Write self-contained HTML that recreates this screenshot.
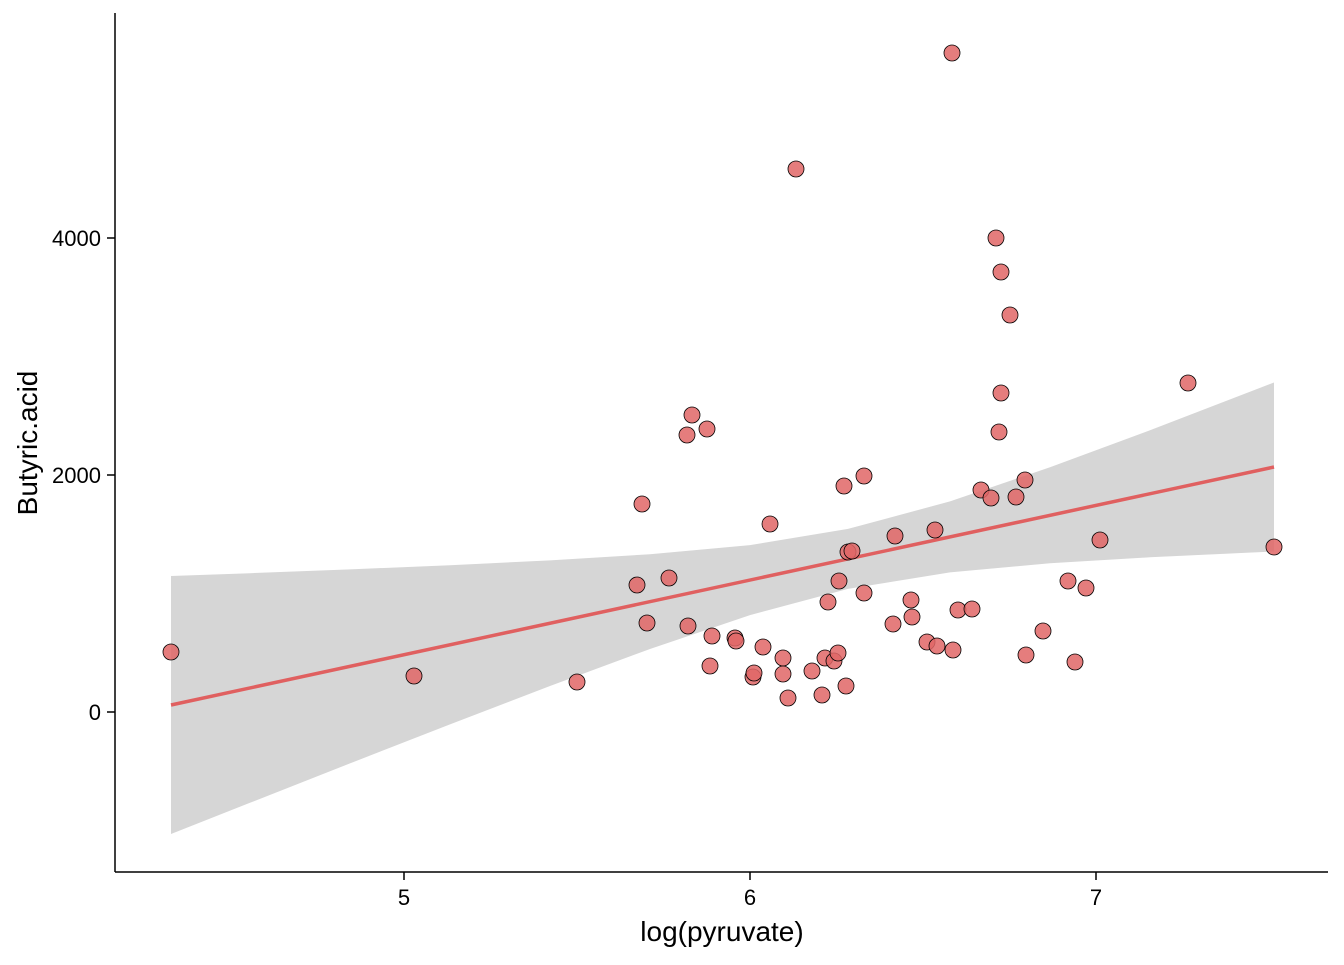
<!DOCTYPE html>
<html><head><meta charset="utf-8"><style>body{margin:0;background:#fff}</style></head><body>
<svg width="1344" height="960" xmlns="http://www.w3.org/2000/svg" font-family="Liberation Sans, Arial, sans-serif">
<rect width="1344" height="960" fill="#fff"/>
<polygon fill="#d6d6d6" points="171,576 250,573.2 350,569.4 450,565.2 550,560.4 650,554.2 750,545.1 848,528.9 950,501.4 1050,467.3 1150,430.3 1274,382.5 1274,551.5 1150,557.3 1050,563.3 950,572.4 848,588.9 750,615.1 650,649 550,686 450,724.4 350,763.4 250,802.8 171,834"/>
<line x1="171" y1="705" x2="1274" y2="467" stroke="#e06060" stroke-width="3.5"/>
<g fill="#e06666" fill-opacity="0.85" stroke="#000" stroke-width="0.8">
<circle cx="171" cy="652" r="8"/><circle cx="414" cy="676" r="8"/><circle cx="577" cy="682" r="8"/><circle cx="642" cy="504" r="8"/><circle cx="637" cy="585" r="8"/><circle cx="647" cy="623" r="8"/><circle cx="669" cy="578" r="8"/><circle cx="692" cy="415" r="8"/><circle cx="687" cy="435" r="8"/><circle cx="707" cy="429" r="8"/><circle cx="688" cy="626" r="8"/><circle cx="712" cy="636" r="8"/><circle cx="710" cy="666" r="8"/><circle cx="735" cy="638" r="8"/><circle cx="736" cy="641" r="8"/><circle cx="753" cy="677" r="8"/><circle cx="754" cy="673" r="8"/><circle cx="763" cy="647" r="8"/><circle cx="770" cy="524" r="8"/><circle cx="783" cy="658" r="8"/><circle cx="783" cy="674" r="8"/><circle cx="788" cy="698" r="8"/><circle cx="796" cy="169" r="8"/><circle cx="812" cy="671" r="8"/><circle cx="822" cy="695" r="8"/><circle cx="825" cy="658" r="8"/><circle cx="828" cy="602" r="8"/><circle cx="834" cy="661" r="8"/><circle cx="838" cy="653" r="8"/><circle cx="839" cy="581" r="8"/><circle cx="844" cy="486" r="8"/><circle cx="846" cy="686" r="8"/><circle cx="848" cy="552" r="8"/><circle cx="852" cy="551" r="8"/><circle cx="864" cy="476" r="8"/><circle cx="864" cy="593" r="8"/><circle cx="893" cy="624" r="8"/><circle cx="895" cy="536" r="8"/><circle cx="911" cy="600" r="8"/><circle cx="912" cy="617" r="8"/><circle cx="927" cy="642" r="8"/><circle cx="935" cy="530" r="8"/><circle cx="937" cy="646" r="8"/><circle cx="952" cy="53" r="8"/><circle cx="953" cy="650" r="8"/><circle cx="958" cy="610" r="8"/><circle cx="972" cy="609" r="8"/><circle cx="981" cy="490" r="8"/><circle cx="991" cy="498" r="8"/><circle cx="996" cy="238" r="8"/><circle cx="999" cy="432" r="8"/><circle cx="1001" cy="272" r="8"/><circle cx="1001" cy="393" r="8"/><circle cx="1010" cy="315" r="8"/><circle cx="1016" cy="497" r="8"/><circle cx="1025" cy="480" r="8"/><circle cx="1026" cy="655" r="8"/><circle cx="1043" cy="631" r="8"/><circle cx="1068" cy="581" r="8"/><circle cx="1075" cy="662" r="8"/><circle cx="1086" cy="588" r="8"/><circle cx="1100" cy="540" r="8"/><circle cx="1188" cy="383" r="8"/><circle cx="1274" cy="547" r="8"/>
</g>
<g stroke="#000" stroke-width="1.5">
<line x1="115" y1="13" x2="115" y2="872"/><line x1="115" y1="872" x2="1328" y2="872"/>
<line x1="107" y1="712" x2="115" y2="712"/><line x1="107" y1="475" x2="115" y2="475"/><line x1="107" y1="238" x2="115" y2="238"/>
<line x1="404" y1="872" x2="404" y2="880"/><line x1="750" y1="872" x2="750" y2="880"/><line x1="1096" y1="872" x2="1096" y2="880"/>
</g>
<g font-size="22" fill="#000">
<text x="101" y="720" text-anchor="end">0</text><text x="101" y="483" text-anchor="end">2000</text><text x="101" y="246" text-anchor="end">4000</text>
<text x="404" y="905" text-anchor="middle">5</text><text x="750" y="905" text-anchor="middle">6</text><text x="1096" y="905" text-anchor="middle">7</text>
</g>
<text x="722" y="941" font-size="28" text-anchor="middle">log(pyruvate)</text>
<text transform="translate(37,443) rotate(-90)" font-size="28" text-anchor="middle">Butyric.acid</text>
</svg>
</body></html>
